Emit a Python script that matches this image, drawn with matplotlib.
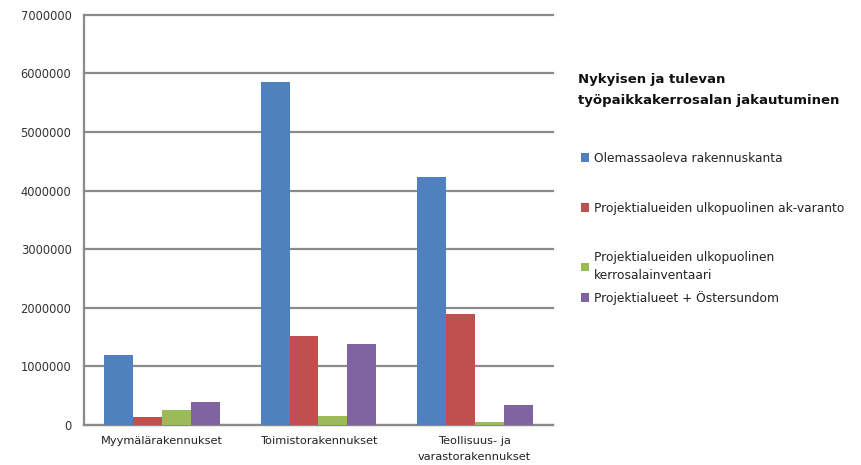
import matplotlib
matplotlib.use('Agg')
import matplotlib.pyplot as plt
import numpy as np

categories = ['Myymälärakennukset', 'Toimistorakennukset', 'Teollisuus- ja\nvarastorakennukset']
series = [
    'Olemassaoleva rakennuskanta',
    'Projektialueiden ulkopuolinen ak-varanto',
    'Projektialueiden ulkopuolinen\nkerrosalainventaari',
    'Projektialueet + Östersundom',
]
olemassa = [1190000, 5860000, 4240000]
ak_varanto = [140000, 1520000, 1890000]
inventaari = [250000, 160000, 45000]
projektialueet = [400000, 1390000, 350000]
yticks = [0, 1000000, 2000000, 3000000, 4000000, 5000000, 6000000, 7000000]

colors = ['#4F81BD', '#C0504D', '#9BBB59', '#8064A2']
values = [olemassa, ak_varanto, inventaari, projektialueet]

fig = plt.figure(figsize=(8.62, 4.65), dpi=100)
ax = fig.add_axes([0.0974, 0.086, 0.544, 0.882])

x = np.arange(len(categories))
w = 0.185
handles = []
for i, (vals, col, name) in enumerate(zip(values, colors, series)):
    b = ax.bar(x + (i - 1.5) * w, vals, w, color=col, label=name, zorder=3)
    handles.append(b)

ax.set_xlim(-0.5, 2.5)
ax.set_ylim(0, 7000000)
ax.set_yticks(yticks)
ax.set_yticklabels([str(v) for v in yticks], fontsize=8.3, color='#333333')
ax.set_xticks(x)
ax.set_xticklabels(categories, fontsize=8.2, color='#222222', linespacing=1.75)
ax.tick_params(axis='both', length=0)
ax.tick_params(axis='y', pad=9)
ax.tick_params(axis='x', pad=8)

ax.yaxis.grid(True, color='#8a8a8a', linewidth=1.6, zorder=0)
for gl in ax.get_ygridlines():
    gl.set_clip_on(False)
ax.set_axisbelow(True)
for s in ['top', 'right']:
    ax.spines[s].set_visible(False)
for s in ['left', 'bottom']:
    ax.spines[s].set_color('#8a8a8a')
    ax.spines[s].set_linewidth(1.6)

fig.text(0.671, 0.807, 'Nykyisen ja tulevan\ntyöpaikkakerrosalan jakautuminen',
         fontsize=9.5, fontweight='bold', ha='left', va='center', linespacing=1.8, color='#111111')

# first three entries in one block, the last one sits closer below
leg_kw = dict(frameon=False, fontsize=8.8, handlelength=0.7, handleheight=0.7,
              handletextpad=0.35, loc='upper left')
leg1 = fig.legend(handles=handles[:3], labels=series[:3],
                  bbox_to_anchor=(0.661, 0.697), labelspacing=3.0, **leg_kw)
leg2 = fig.legend(handles=handles[3:], labels=series[3:],
                  bbox_to_anchor=(0.661, 0.398), **leg_kw)
for leg in (leg1, leg2):
    for t in leg.get_texts():
        t.set_color('#222222')
        t.set_linespacing(1.45)

plt.savefig('out.png', dpi=100)
